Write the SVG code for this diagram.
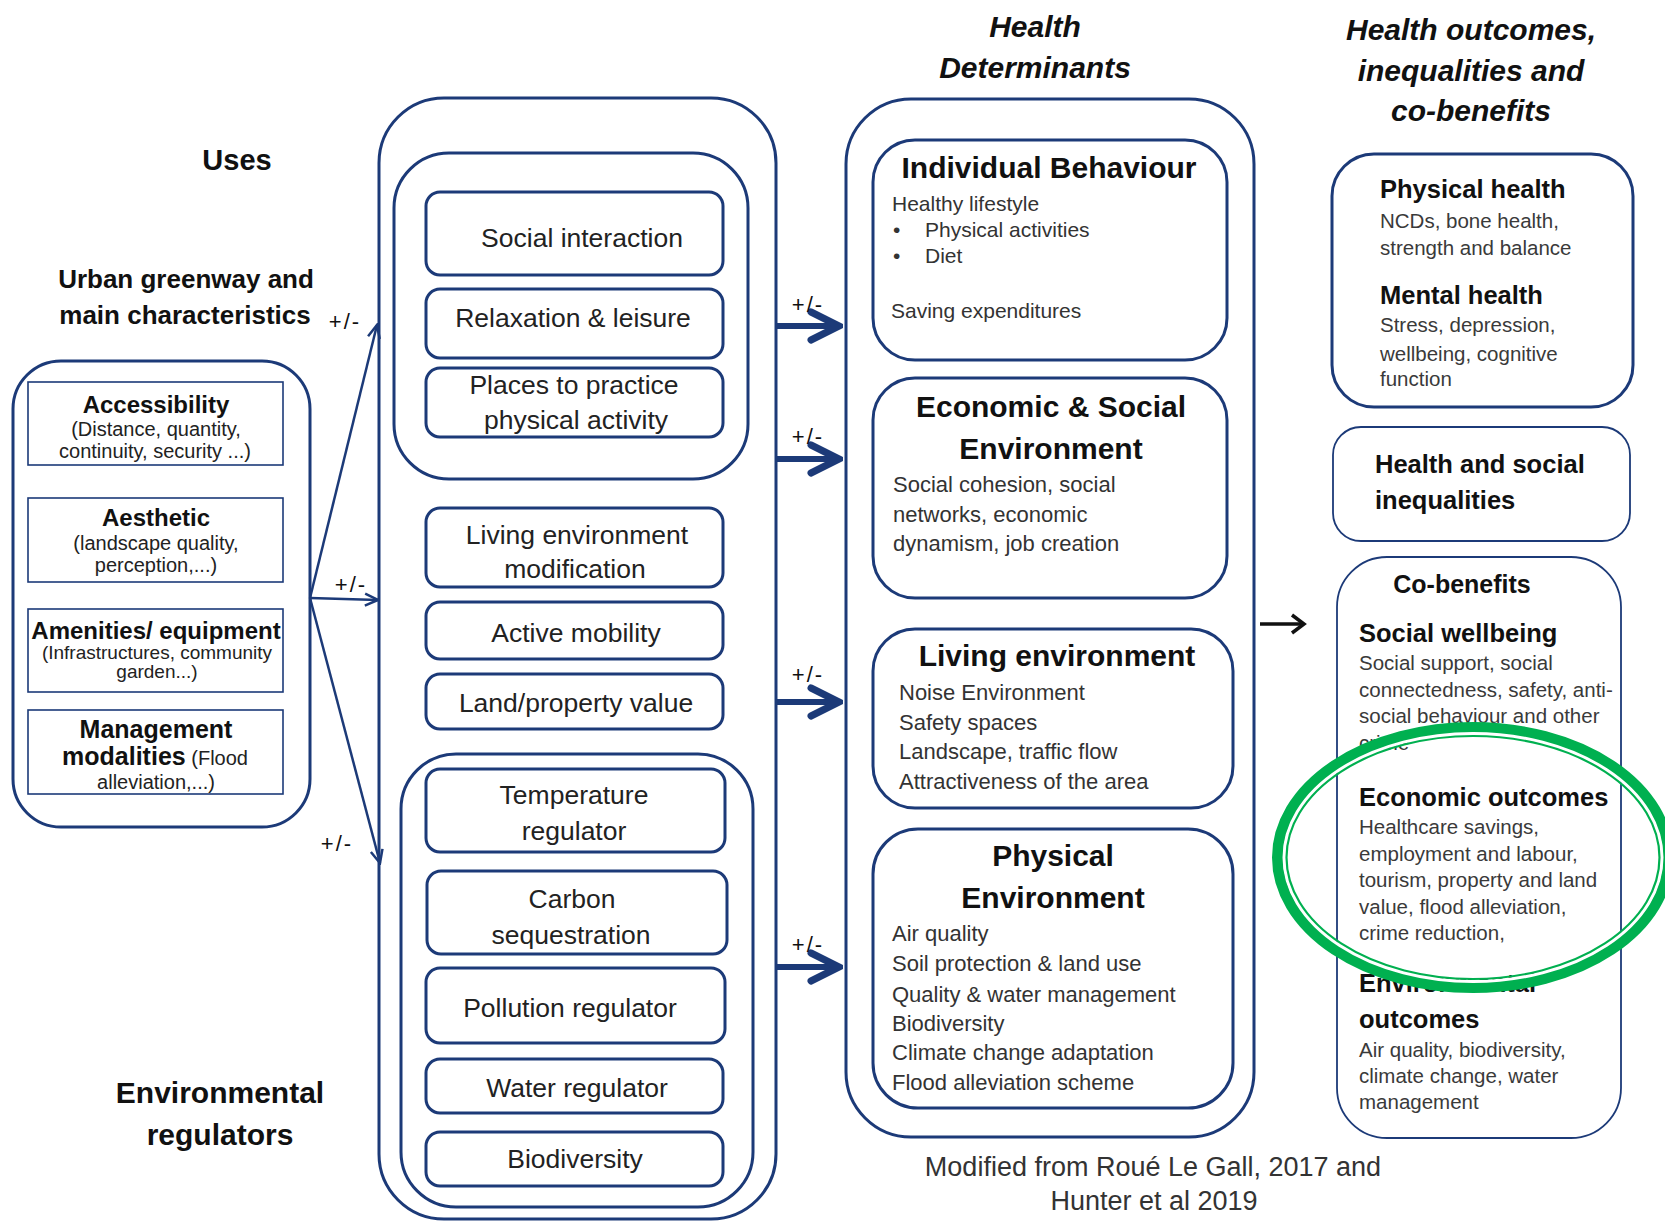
<svg xmlns="http://www.w3.org/2000/svg" width="1665" height="1222" viewBox="0 0 1665 1222">
<defs>
<style>
.nb{fill:#fff;stroke:#1c3a78;stroke-width:3}
.nc{fill:none;stroke:#1c3a78;stroke-width:3}
.thin{fill:#fff;stroke:#1c3a78;stroke-width:1.8}
.sq{fill:#fff;stroke:#1c3a78;stroke-width:1.6}
text{font-family:"Liberation Sans",Arial,sans-serif}
.c{text-anchor:middle}
.hd{font-weight:bold;font-size:30px;fill:#111}
.hi{font-weight:bold;font-style:italic;font-size:30px;fill:#111}
.u{font-size:26.5px;fill:#222}
.lb{font-weight:bold;font-size:24px;fill:#111}
.ls{font-size:20px;fill:#222}
.dt{font-weight:bold;font-size:30px;fill:#111}
.db{font-size:22px;fill:#333}
.ot{font-weight:bold;font-size:25.5px;fill:#111}
.ob{font-size:20.5px;fill:#3a3a3a}
.pm{font-size:22px;letter-spacing:2px;fill:#111}
.cr{font-size:27px;fill:#333}
.ln{fill:none;stroke:#1c3a78;stroke-width:2.5}
.tk{fill:none;stroke:#1c3a78;stroke-width:6}
</style>
<marker id="arrThin" viewBox="0 0 16 16" refX="14" refY="8" markerWidth="16" markerHeight="16" markerUnits="userSpaceOnUse" orient="auto">
<path d="M1,2 L14,8 L1,14" fill="none" stroke="#1c3a78" stroke-width="2.5"/>
</marker>
<marker id="arrThick" viewBox="0 0 36 36" refX="32" refY="18" markerWidth="36" markerHeight="36" markerUnits="userSpaceOnUse" orient="auto">
<path d="M4,4 L32,18 L4,32" fill="none" stroke="#1c3a78" stroke-width="7" stroke-linecap="round"/>
</marker>
<marker id="arrBlack" viewBox="0 0 18 24" refX="15" refY="12" markerWidth="18" markerHeight="24" markerUnits="userSpaceOnUse" orient="auto">
<path d="M3,3 L15,12 L3,21" fill="none" stroke="#111" stroke-width="3.5"/>
</marker>
</defs>
<rect width="1665" height="1222" fill="#fff"/>

<!-- Column headers -->
<g id="headers">
<text class="hd c" x="237" y="170" style="font-size:29px">Uses</text>
<text class="hd c" x="186" y="288" style="font-size:26px">Urban greenway and</text>
<text class="hd c" x="185" y="324" style="font-size:26px">main characteristics</text>
<text class="hd c" x="220" y="1103">Environmental</text>
<text class="hd c" x="220" y="1145">regulators</text>
<text class="hi c" x="1035" y="37">Health</text>
<text class="hi c" x="1035" y="78">Determinants</text>
<text class="hi c" x="1471" y="40">Health outcomes,</text>
<text class="hi c" x="1471" y="81">inequalities and</text>
<text class="hi c" x="1471" y="121">co-benefits</text>
</g>

<!-- Left: greenway characteristics -->
<g id="greenway">
<rect class="nb" x="13" y="361" width="297" height="466" rx="48"/>
<g id="accessibility">
<rect class="sq" x="28" y="382" width="255" height="83"/>
<text class="lb c" x="156" y="413">Accessibility</text>
<text class="ls c" x="156" y="436">(Distance, quantity,</text>
<text class="ls c" x="155" y="458">continuity, security ...)</text>
</g>
<g id="aesthetic">
<rect class="sq" x="28" y="498" width="255" height="84"/>
<text class="lb c" x="156" y="526">Aesthetic</text>
<text class="ls c" x="156" y="550">(landscape quality,</text>
<text class="ls c" x="156" y="572">perception,...)</text>
</g>
<g id="amenities">
<rect class="sq" x="28" y="609" width="255" height="83"/>
<text class="lb c" x="156" y="639">Amenities/ equipment</text>
<text class="ls c" x="157" y="659" style="font-size:19px">(Infrastructures, community</text>
<text class="ls c" x="157" y="678" style="font-size:19px">garden...)</text>
</g>
<g id="management">
<rect class="sq" x="28" y="710" width="255" height="84"/>
<text class="lb c" x="156" y="738" style="font-size:25px">Management</text>
<text class="c" x="155" y="765"><tspan class="lb" style="font-size:25px">modalities</tspan><tspan class="ls"> (Flood</tspan></text>
<text class="ls c" x="156" y="789">alleviation,...)</text>
</g>
</g>

<!-- Column 2: Uses -->
<g id="uses">
<rect class="nb" x="379" y="98" width="397" height="1121" rx="65"/>
<g id="uses-social">
<rect class="nb" x="394" y="153" width="354" height="326" rx="55"/>
<g id="social-interaction">
<rect class="nb" x="426" y="192" width="297" height="83" rx="14"/>
<text class="u c" x="582" y="247">Social interaction</text>
</g>
<g id="relaxation">
<rect class="nb" x="426" y="289" width="297" height="69" rx="14"/>
<text class="u c" x="573" y="327">Relaxation &amp; leisure</text>
</g>
<g id="places">
<rect class="nb" x="426" y="368" width="297" height="69" rx="14"/>
<text class="u c" x="574" y="394">Places to practice</text>
<text class="u c" x="576" y="429">physical activity</text>
</g>
</g>
<g id="living-modification">
<rect class="nb" x="426" y="508" width="297" height="79" rx="14"/>
<text class="u c" x="577" y="544">Living environment</text>
<text class="u c" x="575" y="578">modification</text>
</g>
<g id="active-mobility">
<rect class="nb" x="426" y="602" width="297" height="57" rx="14"/>
<text class="u c" x="576" y="642">Active mobility</text>
</g>
<g id="land-value">
<rect class="nb" x="426" y="674" width="297" height="55" rx="14"/>
<text class="u c" x="576" y="712">Land/property value</text>
</g>
<g id="env-regulators">
<rect class="nb" x="401" y="754" width="352" height="453" rx="55"/>
<g id="temperature">
<rect class="nb" x="426" y="769" width="299" height="83" rx="14"/>
<text class="u c" x="574" y="804">Temperature</text>
<text class="u c" x="574" y="840">regulator</text>
</g>
<g id="carbon">
<rect class="nb" x="427" y="871" width="300" height="83" rx="14"/>
<text class="u c" x="572" y="908">Carbon</text>
<text class="u c" x="571" y="944">sequestration</text>
</g>
<g id="pollution">
<rect class="nb" x="426" y="968" width="299" height="75" rx="14"/>
<text class="u c" x="570" y="1017">Pollution  regulator</text>
</g>
<g id="water">
<rect class="nb" x="426" y="1059" width="297" height="54" rx="14"/>
<text class="u c" x="577" y="1097">Water regulator</text>
</g>
<g id="biodiversity">
<rect class="nb" x="426" y="1132" width="297" height="54" rx="14"/>
<text class="u c" x="575" y="1168">Biodiversity</text>
</g>
</g>
</g>

<!-- Column 3: Health determinants -->
<g id="determinants">
<rect class="nb" x="846" y="99" width="408" height="1038" rx="65"/>
<g id="individual-behaviour">
<rect class="nb" x="873" y="140" width="354" height="220" rx="42"/>
<text class="dt c" x="1049" y="178">Individual Behaviour</text>
<text class="db" x="892" y="211" style="font-size:21px">Healthy lifestyle</text>
<text class="db" x="893" y="237" style="font-size:21px">•</text>
<text class="db" x="925" y="237" style="font-size:21px">Physical activities</text>
<text class="db" x="893" y="263" style="font-size:21px">•</text>
<text class="db" x="925" y="263" style="font-size:21px">Diet</text>
<text class="db" x="891" y="318" style="font-size:21px">Saving expenditures</text>
</g>
<g id="economic-social">
<rect class="nb" x="873" y="378" width="354" height="220" rx="42"/>
<text class="dt c" x="1051" y="417">Economic &amp; Social</text>
<text class="dt c" x="1051" y="459">Environment</text>
<text class="db" x="893" y="492">Social cohesion, social</text>
<text class="db" x="893" y="522">networks, economic</text>
<text class="db" x="893" y="551">dynamism, job creation</text>
</g>
<g id="living-environment">
<rect class="nb" x="873" y="629" width="360" height="179" rx="42"/>
<text class="dt c" x="1057" y="666">Living environment</text>
<text class="db" x="899" y="700">Noise Environment</text>
<text class="db" x="899" y="730">Safety spaces</text>
<text class="db" x="899" y="759">Landscape, traffic flow</text>
<text class="db" x="899" y="789">Attractiveness of the area</text>
</g>
<g id="physical-environment">
<rect class="nb" x="873" y="829" width="360" height="279" rx="45"/>
<text class="dt c" x="1053" y="866">Physical</text>
<text class="dt c" x="1053" y="908">Environment</text>
<text class="db" x="892" y="941">Air quality</text>
<text class="db" x="892" y="971">Soil protection &amp; land use</text>
<text class="db" x="892" y="1002">Quality &amp; water management</text>
<text class="db" x="892" y="1031">Biodiversity</text>
<text class="db" x="892" y="1060">Climate change adaptation</text>
<text class="db" x="892" y="1090">Flood alleviation scheme</text>
</g>
</g>

<g id="credit">
<text class="cr c" x="1153" y="1176">Modified from Roué Le Gall, 2017 and</text>
<text class="cr c" x="1154" y="1210">Hunter et al 2019</text>
</g>

<!-- Column 4: outcomes -->
<g id="health-outcomes">
<rect class="nb" x="1332" y="154" width="301" height="253" rx="42"/>
<text class="ot" x="1380" y="198">Physical health</text>
<text class="ob" x="1380" y="228">NCDs, bone health,</text>
<text class="ob" x="1380" y="255">strength and balance</text>
<text class="ot" x="1380" y="304">Mental health</text>
<text class="ob" x="1380" y="332">Stress, depression,</text>
<text class="ob" x="1380" y="361">wellbeing, cognitive</text>
<text class="ob" x="1380" y="386">function</text>
</g>
<g id="inequalities">
<rect class="thin" x="1333" y="427" width="297" height="114" rx="28"/>
<text class="ot" x="1375" y="473">Health and social</text>
<text class="ot" x="1375" y="509">inequalities</text>
</g>
<g id="co-benefits">
<rect class="thin" x="1337" y="557" width="284" height="581" rx="50"/>
<text class="ot c" x="1462" y="593" style="font-size:25px">Co-benefits</text>
<text class="ot" x="1359" y="642">Social wellbeing</text>
<text class="ob" x="1359" y="670">Social support, social</text>
<text class="ob" x="1359" y="697">connectedness, safety, anti-</text>
<text class="ob" x="1359" y="723">social behaviour and other</text>
<text class="ob" x="1359" y="750">crime</text>
<text class="ot" x="1359" y="806">Economic outcomes</text>
<text class="ob" x="1359" y="834">Healthcare savings,</text>
<text class="ob" x="1359" y="861">employment and labour,</text>
<text class="ob" x="1359" y="887">tourism, property and land</text>
<text class="ob" x="1359" y="914">value, flood alleviation,</text>
<text class="ob" x="1359" y="940">crime reduction,</text>
<text class="ot" x="1359" y="992">Environmental</text>
<text class="ot" x="1359" y="1028">outcomes</text>
<text class="ob" x="1359" y="1057">Air quality, biodiversity,</text>
<text class="ob" x="1359" y="1083">climate change, water</text>
<text class="ob" x="1359" y="1109">management</text>
</g>

<!-- Connectors -->
<g id="connectors">
<path class="ln" d="M310,598 L377,325" marker-end="url(#arrThin)"/>
<path class="ln" d="M310,598 L378,600" marker-end="url(#arrThin)"/>
<path class="ln" d="M310,598 L380,863" marker-end="url(#arrThin)"/>
<text class="pm c" x="345" y="329">+/-</text>
<text class="pm c" x="351" y="592">+/-</text>
<text class="pm c" x="337" y="851">+/-</text>
<path class="tk" d="M776,326 L839,326" marker-end="url(#arrThick)"/>
<path class="tk" d="M776,459 L839,459" marker-end="url(#arrThick)"/>
<path class="tk" d="M776,702 L839,702" marker-end="url(#arrThick)"/>
<path class="tk" d="M776,967 L839,967" marker-end="url(#arrThick)"/>
<text class="pm c" x="808" y="312">+/-</text>
<text class="pm c" x="808" y="444">+/-</text>
<text class="pm c" x="808" y="682">+/-</text>
<text class="pm c" x="808" y="952">+/-</text>
<path d="M1260,624 L1304,624" fill="none" stroke="#111" stroke-width="3.5" marker-end="url(#arrBlack)"/>
</g>

<!-- Green highlight ellipse -->
<g id="highlight">
<ellipse cx="1473" cy="857.5" rx="195.5" ry="130" fill="none" stroke="#00b050" stroke-width="11"/>
<ellipse cx="1473" cy="857.5" rx="189" ry="124" fill="none" stroke="#fff" stroke-width="3"/>
<ellipse cx="1473" cy="857.5" rx="186.5" ry="121.5" fill="none" stroke="#00b050" stroke-width="2.2"/>
</g>
</svg>
